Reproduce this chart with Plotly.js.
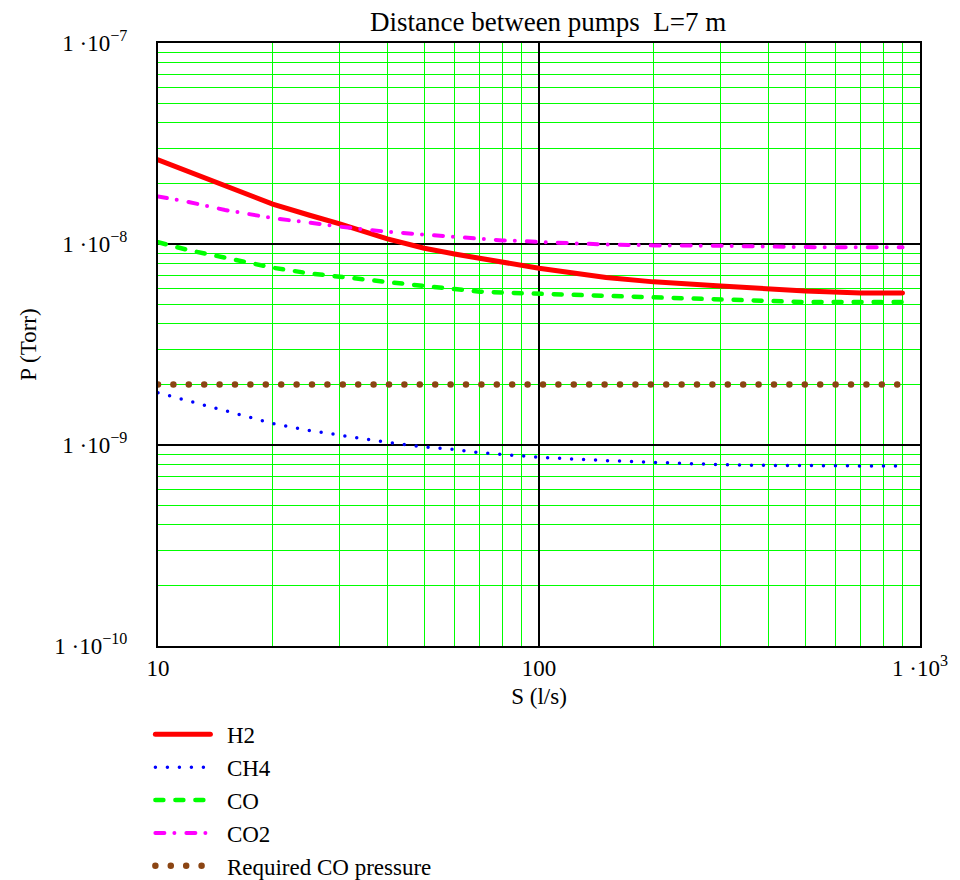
<!DOCTYPE html>
<html>
<head>
<meta charset="utf-8">
<script src="https://cdn.plot.ly/plotly-3.0.1.min.js"></script>
<style>
  html, body { margin: 0; padding: 0; background: #fff; }
  #chart { width: 960px; height: 880px; }
  .js-line { stroke-linecap: round; }
</style>
</head>
<body>
<div id="chart"></div>
<script>
// Pumping speed S (l/s)
const S = [10, 12, 15, 20, 25, 30, 40, 50, 60, 70, 80, 90, 100, 150, 200, 300, 400, 500, 700, 900];

// Pressures (Torr)
const H2  = [2.62e-8, 2.29e-8, 1.93e-8, 1.58e-8, 1.39e-8, 1.26e-8, 1.06e-8, 9.53e-9, 8.92e-9, 8.49e-9, 8.17e-9, 7.8e-9, 7.57e-9, 6.82e-9, 6.48e-9, 6.18e-9, 5.95e-9, 5.83e-9, 5.71e-9, 5.70e-9];
const CH4 = [1.82e-9, 1.66e-9, 1.47e-9, 1.28e-9, 1.18e-9, 1.12e-9, 1.03e-9, 9.77e-10, 9.5e-10, 9.16e-10, 9.0e-10, 8.85e-10, 8.69e-10, 8.36e-10, 8.17e-10, 7.98e-10, 7.92e-10, 7.87e-10, 7.87e-10, 7.87e-10];
const CO  = [1.02e-8, 9.33e-9, 8.55e-9, 7.62e-9, 7.14e-9, 6.87e-9, 6.41e-9, 6.18e-9, 5.97e-9, 5.79e-9, 5.73e-9, 5.69e-9, 5.6e-9, 5.47e-9, 5.37e-9, 5.25e-9, 5.17e-9, 5.14e-9, 5.14e-9, 5.14e-9];
const CO2 = [1.725e-8, 1.62e-8, 1.476e-8, 1.345e-8, 1.276e-8, 1.219e-8, 1.15e-8, 1.116e-8, 1.079e-8, 1.062e-8, 1.042e-8, 1.035e-8, 1.023e-8, 9.95e-9, 9.84e-9, 9.8e-9, 9.66e-9, 9.65e-9, 9.64e-9, 9.64e-9];
const REQ_S = [10, 900];
const REQ_CO = [2e-9, 2e-9];

const seriesNames = ["H2", "CH4", "CO", "CO2", "Required CO pressure"];

const xTickVals = [10, 100, 1000];
const xTickText = ["10", "100", "1 \u00B710<sup>3</sup>"];
const xMinorVals = [20, 30, 40, 50, 60, 70, 80, 90, 200, 300, 400, 500, 600, 700, 800, 900];
const yTickVals = [1e-10, 1e-9, 1e-8, 1e-7];
const yTickText = ["1 \u00B710<sup>\u221210</sup>", "1 \u00B710<sup>\u22129</sup>", "1 \u00B710<sup>\u22128</sup>", "1 \u00B710<sup>\u22127</sup>"];
const yMinorVals = [2e-10, 3e-10, 4e-10, 5e-10, 6e-10, 7e-10, 8e-10, 9e-10,
                    2e-9, 3e-9, 4e-9, 5e-9, 6e-9, 7e-9, 8e-9, 9e-9,
                    2e-8, 3e-8, 4e-8, 5e-8, 6e-8, 7e-8, 8e-8, 9e-8];

const FONT = '"Liberation Serif", "Times New Roman", serif';
const PAD = '\u00A0\u00A0';

const traces = [
  {x: S, y: H2, name: PAD + seriesNames[0], legendgroup: 'g1', mode: 'lines',
   line: {color: '#ff0000', width: 5}},
  {x: S, y: CH4, name: PAD + seriesNames[1], legendgroup: 'g2', mode: 'lines',
   line: {color: '#0000ff', width: 3.5, dash: '0px,12px'}},
  {x: S, y: CO, name: PAD + seriesNames[2], legendgroup: 'g3', mode: 'lines',
   line: {color: '#00ff00', width: 4.5, dash: '8px,12px'}},
  {x: S, y: CO2, name: PAD + seriesNames[3], legendgroup: 'g4', mode: 'lines',
   line: {color: '#ff00ff', width: 4, dash: '9px,10px,0px,12px'}},
  {x: REQ_S, y: REQ_CO, name: PAD + seriesNames[4], legendgroup: 'g5', mode: 'lines',
   line: {color: '#8b4513', width: 6.5, dash: '0px,15.4px'}}
];

const axisCommon = {
  type: 'log',
  showline: true, mirror: true, linecolor: '#000', linewidth: 2,
  ticks: '',
  showgrid: true, gridcolor: '#000', gridwidth: 1.5,
  zeroline: false,
  tickfont: {family: FONT, size: 23, color: '#000'}
};

const layout = {
  width: 960, height: 880,
  paper_bgcolor: '#fff', plot_bgcolor: '#fff',
  margin: {l: 158, r: 40, t: 43, b: 234},
  font: {family: FONT, color: '#000'},
  title: {text: 'Distance between pumps\u00A0\u00A0L=7 m', font: {family: FONT, size: 27, color: '#000'},
          x: 0.571, xanchor: 'center', y: 0.975, yanchor: 'middle'},
  xaxis: Object.assign({}, axisCommon, {
    range: [1, 3], tickmode: 'array', tickvals: xTickVals, ticktext: xTickText,
    ticklabelstandoff: 0,
    minor: {tickmode: 'array', tickvals: xMinorVals, showgrid: true, gridcolor: '#00ff00', gridwidth: 1, ticks: ''},
    title: {text: 'S (l/s)', font: {family: FONT, size: 23, color: '#000'}, standoff: 8}
  }),
  yaxis: Object.assign({}, axisCommon, {
    range: [-10, -7], tickmode: 'array', tickvals: yTickVals, ticktext: yTickText,
    ticklabelstandoff: 24,
    minor: {tickmode: 'array', tickvals: yMinorVals, showgrid: true, gridcolor: '#00ff00', gridwidth: 1, ticks: ''},
    title: {text: 'P (Torr)', font: {family: FONT, size: 23, color: '#000'}, standoff: 11}
  }),
  showlegend: true,
  legend: {
    x: -0.01, xanchor: 'left', xref: 'paper',
    y: 0.19, yanchor: 'top', yref: 'container',
    bgcolor: 'rgba(0,0,0,0)', borderwidth: 0,
    font: {family: FONT, size: 23, color: '#000'},
    itemwidth: 55, traceorder: 'grouped', tracegroupgap: 0
  }
};

Plotly.newPlot('chart', traces, layout, {displayModeBar: false, staticPlot: true});
</script>
</body>
</html>
